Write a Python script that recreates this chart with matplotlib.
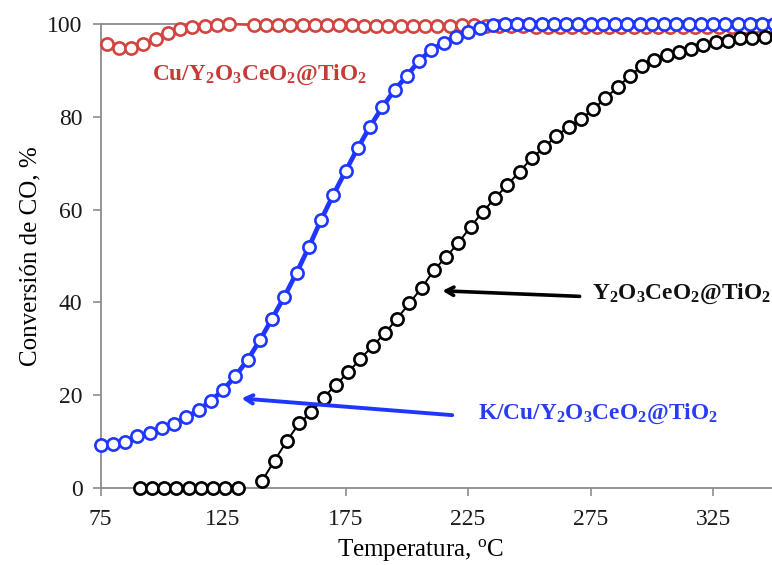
import numpy as np
import matplotlib
matplotlib.use("Agg")
import matplotlib.pyplot as plt

plt.rcParams['font.family'] = ['Liberation Serif', 'DejaVu Serif']
plt.rcParams['mathtext.fontset'] = 'custom'
plt.rcParams['mathtext.rm'] = 'Liberation Serif'
plt.rcParams['mathtext.bf'] = 'Liberation Serif:bold'
plt.rcParams['mathtext.it'] = 'Liberation Serif:italic'

# K/Cu/Y2O3CeO2@TiO2
temp_k = [75, 80, 85, 90, 95, 100, 105, 110, 115, 120, 125, 130, 135, 140, 145,
          150, 155, 160, 165, 170, 175, 180, 185, 190, 195, 200, 205, 210, 215,
          220, 225, 230, 235, 240, 245, 250, 255, 260, 265, 270, 275, 280, 285,
          290, 295, 300, 305, 310, 315, 320, 325, 330, 335, 340, 345, 350]
conv_k = [9.3, 9.4, 10.0, 11.1, 11.8, 12.9, 13.8, 15.2, 16.8, 18.8, 21.1, 24.1,
          27.6, 31.8, 36.5, 41.2, 46.4, 51.9, 57.8, 63.2, 68.3, 73.3, 77.9, 82.1,
          85.8, 88.8, 92.1, 94.4, 96.0, 97.3, 98.3, 99.1, 99.7, 100, 100, 100,
          100, 100, 100, 100, 100, 100, 100, 100, 100, 100, 100, 100, 100, 100,
          100, 100, 100, 100, 100, 100]

# Cu/Y2O3CeO2@TiO2
temp_cu = [77.5, 82.5, 87.5, 92.5, 97.5, 102.5, 107.5, 112.5, 117.5, 122.5, 127.5,
           137.5, 142.5, 147.5, 152.5, 157.5, 162.5, 167.5, 172.5, 177.5, 182.5,
           187.5, 192.5, 197.5, 202.5, 207.5, 212.5, 217.5, 222.5, 227.5, 232.5,
           237.5, 242.5, 247.5, 252.5, 257.5, 262.5, 267.5, 272.5, 277.5, 282.5,
           287.5, 292.5, 297.5, 302.5, 307.5, 312.5, 317.5, 322.5, 327.5, 332.5,
           337.5, 342.5, 347.5]
conv_cu = [95.6, 94.9, 94.9, 95.7, 96.7, 98.0, 98.9, 99.3, 99.6, 99.8, 100.0,
           99.8, 99.8, 99.7, 99.7, 99.7, 99.7, 99.7, 99.7, 99.7, 99.6, 99.6,
           99.6, 99.6, 99.6, 99.6, 99.6, 99.6, 99.7, 99.7, 99.6, 99.5, 99.5,
           99.5, 99.4, 99.4, 99.4, 99.4, 99.4, 99.4, 99.4, 99.4, 99.4, 99.4,
           99.4, 99.4, 99.4, 99.4, 99.4, 99.4, 99.4, 99.4, 99.5, 99.5]

# Y2O3CeO2@TiO2 (no point recorded at 136 C)
temp_y = [91, 96, 101, 106, 111, 116, 121, 126, 131, 136, 141, 146, 151, 156, 161,
          166, 171, 176, 181, 186, 191, 196, 201, 206, 211, 216, 221, 226, 231,
          236, 241, 246, 251, 256, 261, 266, 271, 276, 281, 286, 291, 296, 301,
          306, 311, 316, 321, 326, 331, 336, 341, 346, 351]
conv_y = [0, 0, 0, 0, 0, 0, 0, 0, 0, np.nan, 1.6, 5.9, 10.1, 13.9, 16.3, 19.5,
          22.2, 24.9, 27.8, 30.6, 33.3, 36.5, 39.8, 43.1, 46.9, 49.8, 52.8, 56.3,
          59.5, 62.5, 65.3, 68.2, 71.1, 73.4, 75.9, 77.8, 79.5, 81.6, 84.0, 86.4,
          88.8, 91.0, 92.2, 93.3, 94.0, 94.7, 95.5, 96.2, 96.4, 96.9, 96.9, 97.1,
          97.4]

x_ticks = [75, 125, 175, 225, 275, 325]
y_ticks = [0, 20, 40, 60, 80, 100]

red = '#d2443f'
red_text = '#c73a35'
blue = '#1e36ff'
blue_text = '#2a3cf0'
axis_gray = '#8c8c8c'

fig = plt.figure(figsize=(7.72, 5.65), dpi=100)
ax = fig.add_axes([0.1302, 0.1363, 0.8698, 0.8212])

mk = dict(marker='o', markersize=8.8, markerfacecolor='white', markeredgewidth=1.9,
          clip_on=False)
ax.plot(temp_cu, conv_cu, color=red, lw=1.8, zorder=3, **mk)
ax.plot(temp_k, conv_k, color=blue, lw=3.4, zorder=4, **mk)
ax.plot(temp_y, conv_y, color='black', lw=1.4, zorder=5, **mk)

ax.set_xlim(75, 349)
ax.set_ylim(0, 100)
ax.set_xticks(x_ticks)
ax.set_yticks(y_ticks)

for side in ('left', 'bottom', 'top'):
    ax.spines[side].set_color(axis_gray)
    ax.spines[side].set_linewidth(1.3)
ax.spines['right'].set_visible(False)
ax.tick_params(axis='both', direction='out', length=6, width=1.2, color=axis_gray,
               labelsize=17, labelcolor='#1a1a1a')
ax.tick_params(axis='x', pad=9)
ax.tick_params(axis='y', pad=7)

ax.set_xlabel(r'Temperatura, $^{\mathrm{o}}$C', fontsize=18, labelpad=5)
ax.xaxis.set_label_coords(0.476, -0.105)
ax.set_ylabel('Conversión de CO, %', fontsize=18)
ax.yaxis.set_label_coords(-0.088, 0.5)

ax.text(96.0, 89.0, r'$\mathbf{Cu/Y_2O_3CeO_2@TiO_2}$', color=red_text,
        fontsize=16.8, ha='left', va='center', zorder=6)
ax.text(275.5, 41.8, r'$\mathbf{Y_2O_3CeO_2@TiO_2}$', color='#111111',
        fontsize=16.8, ha='left', va='center', zorder=6)
ax.text(229.0, 16.0, r'$\mathbf{K/Cu/Y_2O_3CeO_2@TiO_2}$', color=blue_text,
        fontsize=16.8, ha='left', va='center', zorder=6)

ax.annotate('', xy=(214.5, 42.5), xytext=(270.5, 41.3),
            arrowprops=dict(arrowstyle='->, head_length=0.55, head_width=0.3',
                            color='black', lw=2.6, shrinkA=0, shrinkB=0),
            zorder=6)
ax.annotate('', xy=(132.5, 19.3), xytext=(218.5, 15.7),
            arrowprops=dict(arrowstyle='->, head_length=0.55, head_width=0.3',
                            color=blue, lw=2.8, shrinkA=0, shrinkB=0),
            zorder=7)

fig.savefig('out.png', dpi=100)
